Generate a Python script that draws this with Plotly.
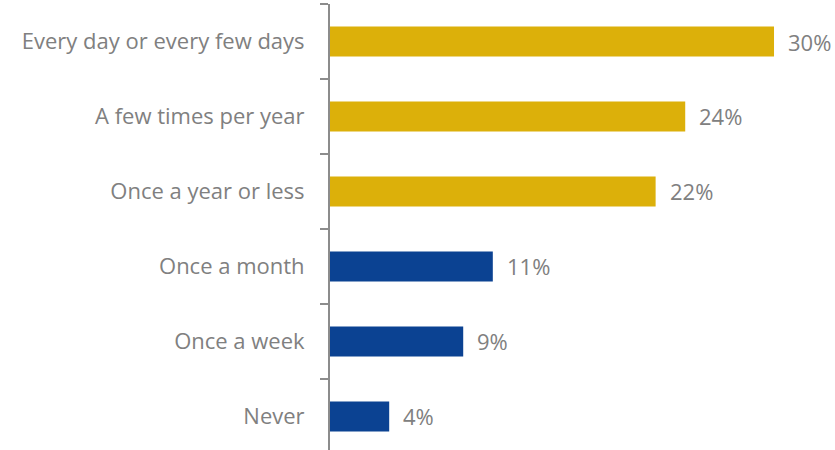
import plotly.graph_objects as go

# Survey frequency categories, listed bottom to top
categories = ["Never", "Once a week", "Once a month",
              "Once a year or less", "A few times per year",
              "Every day or every few days"]
values = [4, 9, 11, 22, 24, 30]
bar_colors = ["#0B4292", "#0B4292", "#0B4292",
              "#DCB00A", "#DCB00A", "#DCB00A"]
value_labels = [f"{v}%" for v in values]

GRAY = "#808080"
FONT = "Open Sans"
FSIZE = 22

fig = go.Figure(
    go.Bar(
        x=values,
        y=categories,
        orientation="h",
        marker=dict(color=bar_colors, line=dict(width=0)),
        width=0.4,
        hoverinfo="skip",
    )
)

# value labels to the right of each bar
for cat, v, lab in zip(categories, values, value_labels):
    fig.add_annotation(
        x=v, y=cat, text=lab, showarrow=False,
        xanchor="left", yanchor="middle", xshift=12,
        font=dict(family=FONT, size=FSIZE, color=GRAY),
    )

fig.update_layout(
    width=835, height=450,
    margin=dict(l=330, r=0, t=4, b=0),
    paper_bgcolor="white", plot_bgcolor="white",
    showlegend=False,
    bargap=0.6,
)

fig.update_xaxes(
    range=[0, 34.12], visible=False, showgrid=False, zeroline=False,
)

fig.update_yaxes(
    type="category",
    categoryorder="array", categoryarray=categories,
    range=[-0.447, 5.5],
    showline=True, linecolor="#8C8C8C", linewidth=2,
    ticks="outside", tickson="boundaries", ticklen=8,
    tickcolor="#8C8C8C", tickwidth=1.5,
    ticklabelstandoff=19,
    showgrid=False, zeroline=False,
    tickfont=dict(family=FONT, size=FSIZE, color=GRAY),
)

fig.write_html("out.html")
